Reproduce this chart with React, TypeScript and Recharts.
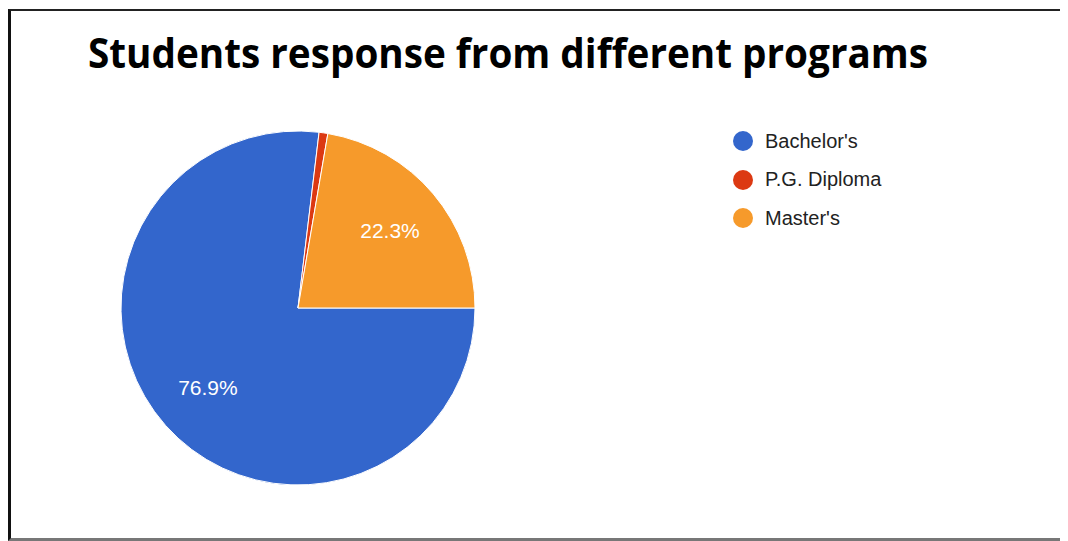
import { PieChart, Pie, Cell, Legend } from "recharts";

const programs = ["Bachelor's", "P.G. Diploma", "Master's"];
const shares = [76.9, 0.8, 22.3];
const sliceColors = ["#3366CC", "#DC3912", "#F69A2B"];

const data = programs.map((name, i) => ({ name, value: shares[i] }));

const RADIAN = Math.PI / 180;

function renderLabel(props: any) {
    const { cx, cy, midAngle, outerRadius, value } = props;
    if (value < 5) return null;
    const r = outerRadius * 0.68;
    const x = cx + r * Math.cos(-midAngle * RADIAN);
    const y = cy + r * Math.sin(-midAngle * RADIAN);
    return (
        <text x={x} y={y} fill="#fff" textAnchor="middle" dominantBaseline="central"
            style={{ fontFamily: "'Liberation Sans', Arial, sans-serif", fontSize: 21 }}>
            {value.toFixed(1)}%
        </text>
    );
}

// keep the legend in data order, not sorted by name
function LegendList({ payload }: any) {
    const items = [...(payload || [])].sort((a: any, b: any) => programs.indexOf(a.value) - programs.indexOf(b.value));
    return (
        <ul style={{ listStyle: "none", margin: 0, padding: 0 }}>
            {items.map((p: any) => (
                <li key={p.value} style={{ display: "flex", alignItems: "center", height: 38.5 }}>
                    <span style={{ display: "inline-block", width: 20, height: 20, borderRadius: "50%", background: p.color, marginRight: 12 }} />
                    <span style={{ fontFamily: "'Liberation Sans', Arial, sans-serif", fontSize: 20, color: "#222" }}>{p.value}</span>
                </li>
            ))}
        </ul>
    );
}

export default function App() {
    return (
        <div style={{ position: "relative", width: 1060, height: 533, background: "#fff" }}>
            <div style={{ position: "absolute", left: 0, top: 1, width: 1060, height: 527, borderTop: "2px solid #222", borderLeft: "3px solid #111", borderBottom: "3px solid #777" }} />
            <svg width={1060} height={90} style={{ position: "absolute", left: 0, top: 0 }}>
                <text x={80} y={60} textLength={840} lengthAdjust="spacingAndGlyphs"
                    style={{ fontFamily: "'Open Sans', sans-serif", fontWeight: 700, fontSize: 42, fill: "#000" }}>
                    Students response from different programs
                </text>
            </svg>
            <div style={{ position: "absolute", left: 0, top: 0 }}>
                <PieChart width={1060} height={533} margin={{ top: 0, right: 0, bottom: 0, left: 0 }}>
                    <Pie data={data} dataKey="value" nameKey="name" cx={290} cy={300} outerRadius={177}
                        startAngle={0} endAngle={-360} stroke="#fff" strokeWidth={1}
                        label={renderLabel} labelLine={false} isAnimationActive={false}>
                        {data.map((_, i) => <Cell key={i} fill={sliceColors[i]} />)}
                    </Pie>
                    <Legend layout="vertical" verticalAlign="top" align="right" content={<LegendList />}
                        wrapperStyle={{ left: 725, top: 114, width: 250 }} />
                </PieChart>
            </div>
        </div>
    );
}
